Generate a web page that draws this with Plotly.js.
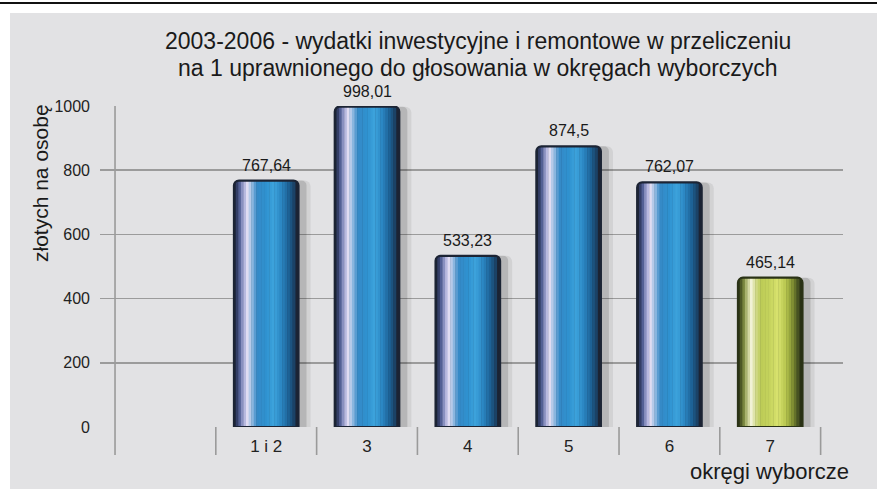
<!DOCTYPE html>
<html>
<head>
<meta charset="utf-8">
<script src="https://cdn.plot.ly/plotly-3.0.1.min.js"></script>
<style>
  html, body { margin: 0; padding: 0; background: #ffffff; }
  #chart { width: 877px; height: 489px; }
</style>
</head>
<body>
<div id="chart"></div>
<script>
// ---- data ----
const categories = [" ", "1 i 2", "3", "4", "5", "6", "7"];
const values = [null, 767.64, 998.01, 533.23, 874.5, 762.07, 465.14];
const yTicks = [0, 200, 400, 600, 800, 1000];
const titleLines = ["2003-2006 - wydatki inwestycyjne i remontowe w przeliczeniu",
                    "na 1 uprawnionego do głosowania w okręgach wyborczych"];
const yTitle = "złotych na osobę";
const xTitle = "okręgi wyborcze";
const highlighted = "7";

// ---- styling ----
const FONT = "'Liberation Sans', Arial, sans-serif";
const W = 877, H = 489;
const M = { l: 100, r: 34, t: 106, b: 62 };
const PW = W - M.l - M.r, PH = H - M.t - M.b;
const px2x = p => (p - M.l) / PW;
const py2y = p => (H - M.b - p) / PH;

// horizontal colour profile across the glossy bars (fraction of bar width)
const BAR_W = 0.64;
const stops = {
  blue: [[0.03, '#27304e'], [0.08, '#45548a'], [0.15, '#a4a8d6'], [0.21, '#e0dcf2'], [0.28, '#96bce2'],
         [0.36, '#3589c6'], [0.50, '#2f92d0'], [0.62, '#3da3dc'], [0.74, '#2a86c2'], [0.86, '#1c5f92'], [0.95, '#1b3a5a']],
  green: [[0.03, '#38421e'], [0.08, '#6c7a32'], [0.15, '#c2ca86'], [0.21, '#f1f2d6'], [0.28, '#d2da8a'],
          [0.36, '#bccb56'], [0.50, '#c6d45e'], [0.62, '#d8e26e'], [0.74, '#b9c850'], [0.86, '#7c8a30'], [0.95, '#38421e']]
};
const outline = { blue: '#1c2434', green: '#2a3216' };
const tone = c => (c === highlighted ? 'green' : 'blue');

function hex2rgb(h) { return [1, 3, 5].map(k => parseInt(h.substr(k, 2), 16)); }
function sample(list, f) {
  for (let k = 0; k < list.length - 1; k++) {
    const a = list[k], b = list[k + 1];
    if (f >= a[0] && f <= b[0]) {
      const t = (f - a[0]) / (b[0] - a[0]);
      const ca = hex2rgb(a[1]), cb = hex2rgb(b[1]);
      return 'rgb(' + ca.map((v, j) => Math.round(v + (cb[j] - v) * t)).join(',') + ')';
    }
  }
  return list[list.length - 1][1];
}

function barLayer(offset, width, color, radius) {
  return {
    type: 'bar', x: categories, y: values, offset: offset, width: width,
    marker: { color: color, line: { width: 0 }, cornerradius: radius || 0 },
    hoverinfo: 'skip', showlegend: false
  };
}

const traces = [
  barLayer(-0.27, 0.71, 'rgba(0,0,0,0.07)', 6),
  barLayer(-0.27, 0.67, 'rgba(0,0,0,0.13)', 5),
  barLayer(-BAR_W / 2, BAR_W, categories.map(c => outline[tone(c)]), 5),
];
const N = 23, f0 = 0.03, f1 = 0.95, step = (f1 - f0) / N;
for (let b = 0; b < N; b++) {
  const fa = f0 + b * step, mid = fa + step / 2;
  traces.push(barLayer(-BAR_W / 2 + fa * BAR_W - 0.002, step * BAR_W + 0.004,
    categories.map(c => sample(stops[tone(c)], mid)), b === 0 || b === N - 1 ? 2 : 0));
}
traces.push({
  type: 'bar', x: categories, y: values, offset: -BAR_W / 2, width: BAR_W,
  marker: { color: 'rgba(0,0,0,0)', line: { width: 2.2, color: categories.map(c => outline[tone(c)]) }, cornerradius: 5 },
  hoverinfo: 'skip', showlegend: false
});

// ---- annotations ----
const annotations = [];
categories.forEach((c, i) => {
  if (values[i] == null) return;
  annotations.push({
    x: i, y: values[i], xref: 'x', yref: 'y', yanchor: 'bottom', yshift: 5,
    text: String(values[i]).replace('.', ','), showarrow: false,
    font: { family: FONT, size: 16, color: '#1a1a1a' }
  });
});
titleLines.forEach((t, k) => {
  annotations.push({
    text: t, showarrow: false, xref: 'paper', yref: 'paper',
    x: px2x(478), y: py2y(k === 0 ? 41 : 68), xanchor: 'center', yanchor: 'middle',
    font: { family: FONT, size: 23, color: '#1a1a1a' }
  });
});
annotations.push({
  text: yTitle, textangle: -90, showarrow: false, xref: 'paper', yref: 'paper',
  x: px2x(40), y: py2y(183), xanchor: 'center', yanchor: 'middle',
  font: { family: FONT, size: 21, color: '#1a1a1a' }
});
annotations.push({
  text: xTitle, showarrow: false, xref: 'paper', yref: 'paper',
  x: px2x(851), y: py2y(471), xanchor: 'right', yanchor: 'middle',
  font: { family: FONT, size: 22, color: '#1a1a1a' }
});

// ---- shapes ----
const shapes = [
  { type: 'rect', xref: 'paper', yref: 'paper', x0: px2x(-5), x1: px2x(W + 5), y0: py2y(13), y1: py2y(-5),
    fillcolor: '#ffffff', line: { width: 0 }, layer: 'below' },
  { type: 'rect', xref: 'paper', yref: 'paper', x0: px2x(-5), x1: px2x(10), y0: py2y(H + 5), y1: py2y(-5),
    fillcolor: '#ffffff', line: { width: 0 }, layer: 'below' },
  { type: 'line', xref: 'paper', yref: 'paper', x0: px2x(-5), x1: px2x(W + 5), y0: py2y(3), y1: py2y(3),
    line: { color: '#111111', width: 2 } },
];
for (let i = 0; i <= categories.length; i++) {
  shapes.push({
    type: 'line', xref: 'x', yref: 'paper', x0: i - 0.5, x1: i - 0.5,
    y0: py2y(455), y1: i === 0 ? 1 : 0,
    line: { color: '#9a9a9a', width: 1.6 }, layer: 'below'
  });
}

const layout = {
  width: W, height: H,
  margin: M,
  paper_bgcolor: '#e2e2e4',
  plot_bgcolor: 'rgba(0,0,0,0)',
  barmode: 'overlay',
  xaxis: {
    type: 'category', range: [-0.649, 6.722], showgrid: false, zeroline: false,
    showline: false, ticks: '', ticklabelstandoff: 7,
    tickfont: { family: FONT, size: 17, color: '#222222' }
  },
  yaxis: {
    range: [0, 1000], tickvals: yTicks, ticktext: yTicks.map(String),
    showgrid: true, gridcolor: '#9b9b9b', gridwidth: 1.5,
    zeroline: false, showline: false, ticks: '', ticklabelstandoff: 9,
    tickfont: { family: FONT, size: 16, color: '#222222' }
  },
  shapes: shapes,
  annotations: annotations,
  showlegend: false
};

Plotly.newPlot('chart', traces, layout, { displayModeBar: false, staticPlot: true });
</script>
</body>
</html>
